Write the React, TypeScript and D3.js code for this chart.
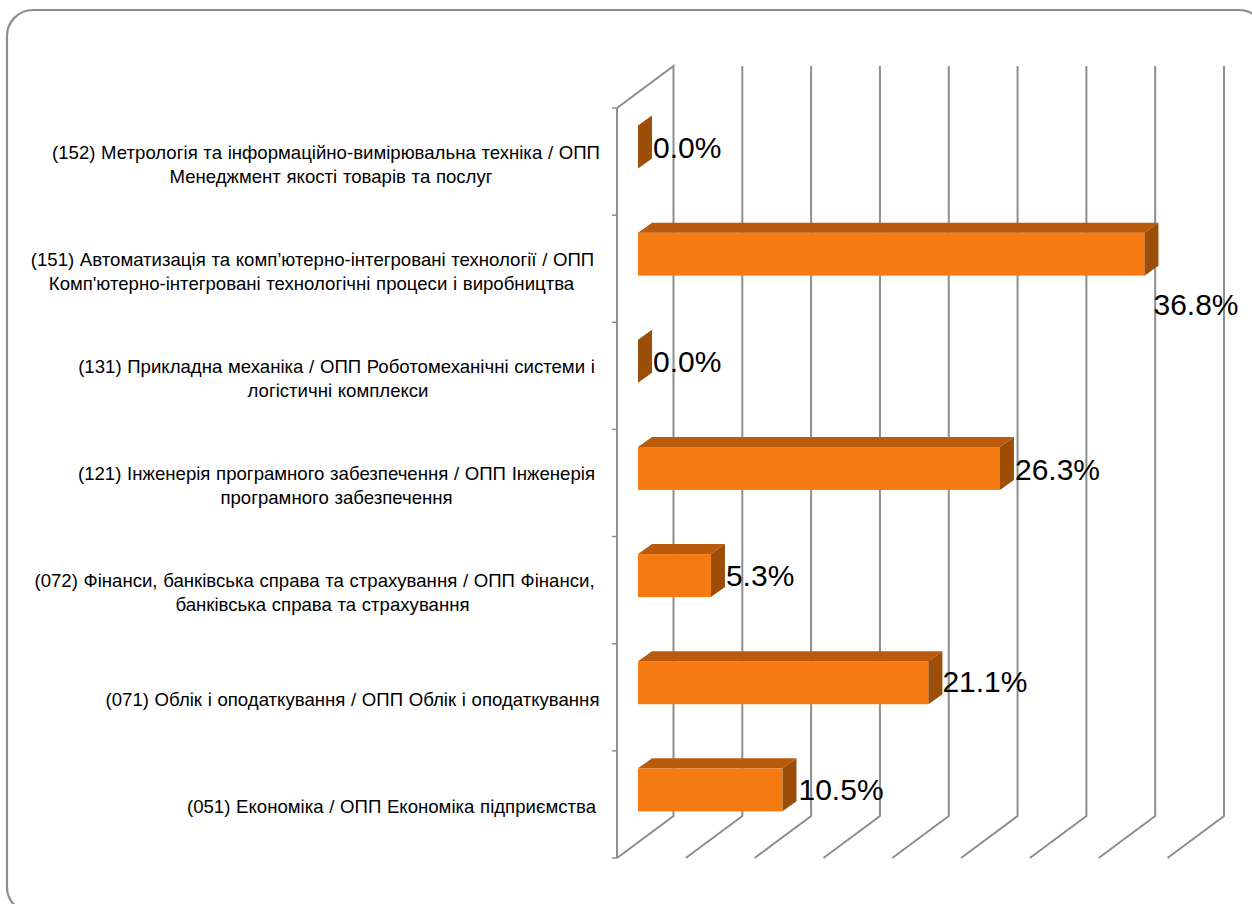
import React from "react";
import * as d3 from "d3";

const categories: string[][] = [
  ["(152) Метрологія та інформаційно-вимірювальна техніка / ОПП", "Менеджмент якості товарів та послуг"],
  ["(151) Автоматизація та комп’ютерно-інтегровані технології / ОПП", "Комп'ютерно-інтегровані технологічні процеси і виробництва"],
  ["(131) Прикладна механіка / ОПП Роботомеханічні системи і", "логістичні комплекси"],
  ["(121) Інженерія програмного забезпечення / ОПП Інженерія", "програмного забезпечення"],
  ["(072) Фінанси, банківська справа та страхування  / ОПП Фінанси,", "банківська справа та страхування"],
  ["(071) Облік і оподаткування  / ОПП Облік і оподаткування"],
  ["(051) Економіка / ОПП Економіка підприємства"],
];
const values = [0.0, 36.8, 0.0, 26.3, 5.3, 21.1, 10.5];
const ticks = d3.range(0, 45, 5);

// layout-only values, kept apart from the data above
const labelOffsets = [[1, 1], [-5, 51], [1, 1], [1, 2], [1, 0], [0, -1], [2, 0]];
const lineCenters = [[326, 331], [312.5, 311.5], [336.5, 338], [336.5, 336.5], [314.5, 322.5], [352.5], [391.5]];

const FRONT = "#F57A12", TOP = "#BA5B0C", SIDE = "#9C4D08", GRID = "#8E8E8E";
const DX = 56.5, DY = 42, BDX = 14, BDY = 10;

export default function App() {
  const x = d3.scaleLinear().domain([0, 40]).range([617, 1167.5]);
  const band = d3.scaleBand<number>().domain(d3.range(7)).range([108, 858]);
  const bh = 43;
  const barX0 = 638;
  const barW = (v: number) => x(v) - x(0);
  return (
    <svg width={1252} height={904} style={{ position: "absolute", left: 0, top: 0, background: "#fff" }} fontFamily="'Liberation Sans', Arial, sans-serif">
      <rect x={7} y={10} width={1258} height={903} rx={26} ry={26} fill="#fff" stroke={GRID} strokeWidth={2.2} />
      {ticks.map((t) => {
        const f = x(t);
        const top = 66, backBottom = 858 - DY;
        const pts = t === 0
          ? [[f, 108], [f + DX, top], [f + DX, backBottom], [f, 858]]
          : [[f + DX, top], [f + DX, backBottom], [f, 858]];
        return <path key={t} d={d3.line()(pts as [number, number][])!} fill="none" stroke={GRID} strokeWidth={2} />;
      })}
      <line x1={617} x2={617} y1={108} y2={858} stroke={GRID} strokeWidth={2} />
      {d3.range(8).map((i) => {
        const y = 108 + band.step() * i;
        return <line key={i} x1={612} x2={617} y1={y} y2={y} stroke={GRID} strokeWidth={1.5} />;
      })}
      {values.map((v, i) => {
        const y0 = band(i)! + 17.5;
        const w = barW(v);
        const xr = barX0 + w;
        return (
          <g key={i}>
            {w > 0 && <rect x={barX0} y={y0} width={w} height={bh} fill={FRONT} />}
            {w > 0 && <path d={`M${barX0},${y0}L${barX0 + BDX},${y0 - BDY}L${xr + BDX},${y0 - BDY}L${xr},${y0}Z`} fill={TOP} />}
            <path d={`M${xr},${y0}L${xr + BDX},${y0 - BDY}L${xr + BDX},${y0 + bh - BDY}L${xr},${y0 + bh}Z`} fill={SIDE} />
            <text x={xr + BDX + labelOffsets[i][0]} y={y0 + bh / 2 + 10 + labelOffsets[i][1]} fontSize={30} fill="#000">{v.toFixed(1)}%</text>
          </g>
        );
      })}
      {categories.map((lines, i) => {
        const cy = band(i)! + band.bandwidth() / 2 + 4;
        return (
          <text key={i} textAnchor="middle" fontSize={18.6} wordSpacing={0.5} fill="#000">
            {lines.map((l, j) => (
              <tspan key={j} x={lineCenters[i][j]} y={cy + 5 + (j - (lines.length - 1) / 2) * 24}>{l}</tspan>
            ))}
          </text>
        );
      })}
    </svg>
  );
}
